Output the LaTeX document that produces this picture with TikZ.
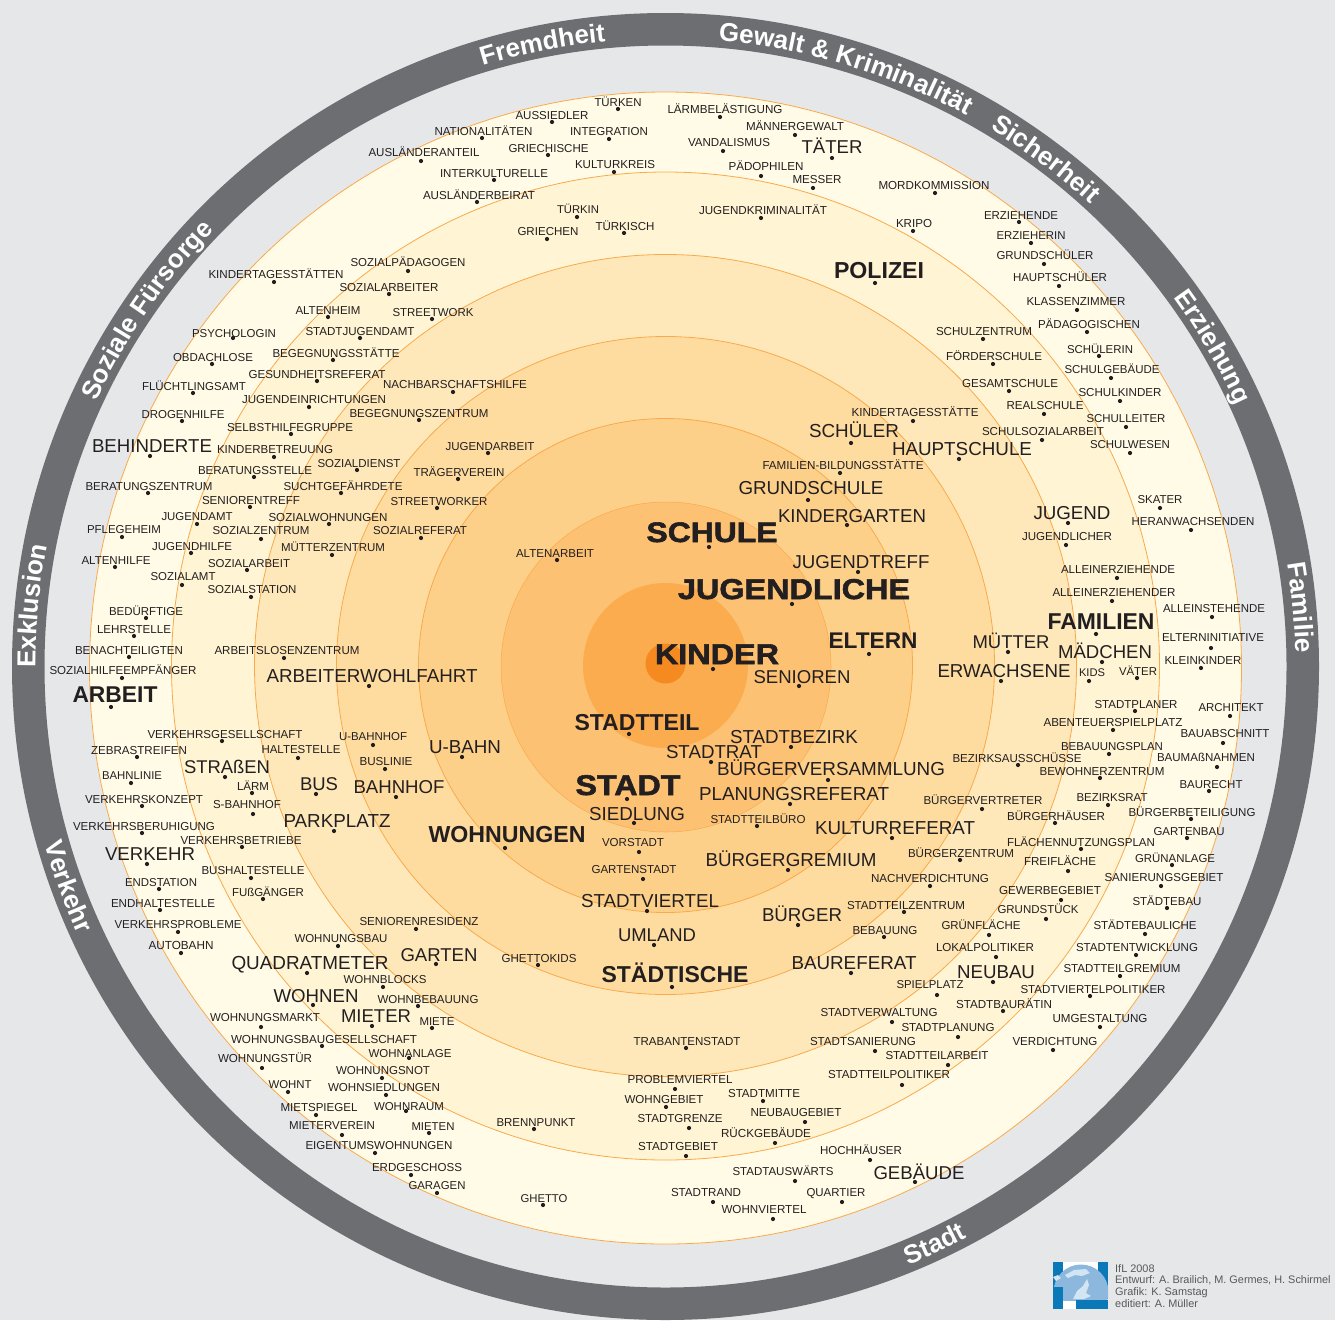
\documentclass[tikz,border=0pt]{standalone}
\usepackage{fontspec}
\usetikzlibrary{decorations.text}
\setmainfont{Liberation Sans}
\newfontfamily\heavy[FakeBold=2,FakeStretch=1.13]{Liberation Sans}
\definecolor{bgc}{HTML}{E6E7E9}
\definecolor{ringc}{HTML}{6D6E71}
\definecolor{c1}{HTML}{FFFBE7}
\definecolor{c2}{HTML}{FFF4D3}
\definecolor{c3}{HTML}{FEE8B9}
\definecolor{c4}{HTML}{FEDC9F}
\definecolor{c5}{HTML}{FDD08A}
\definecolor{c6}{HTML}{FDC173}
\definecolor{c7}{HTML}{FBAC4F}
\definecolor{c8}{HTML}{F58A20}
\definecolor{edge}{HTML}{F9A94B}
\definecolor{ink}{HTML}{231F20}
\definecolor{logob}{HTML}{0B78B7}
\definecolor{logol}{HTML}{8BB8DC}
\definecolor{logop}{HTML}{D3E5F2}
\definecolor{credit}{HTML}{58595B}
\newcounter{wc}
\newbox\wmeas
\newcommand{\wlab}[7]{%
  \stepcounter{wc}%
  \node[wtext] (t\thewc) at (#4,#5) {\setbox\wmeas=\hbox{#1\fontsize{10}{10}\selectfont #7}\pgfmathsetmacro\fsz{10*#6/\the\wd\wmeas}#1\fontsize{\fsz}{\fsz}\selectfont #7};%
  \node[wdot] (d\thewc) at (#2,#3) {};%
}
\newcommand{\wl}{\wlab{\normalfont}}
\newcommand{\wb}{\wlab{\bfseries}}
\newcommand{\wh}{\wlab{\heavy\bfseries}}
\newcommand{\ringfont}{\fontsize{26}{26}\selectfont\bfseries\color{white}}
\newcommand{\ringtext}[4]{%
  \path[decorate,decoration={text along path,text align=center,text={|\ringfont|#4}}]
    (C) ++(#1:#3pt) arc[start angle=#1,end angle=#2,radius=#3pt];%
}
\tikzset{
  wtext/.style={anchor=base,inner sep=0pt,outer sep=0pt,text=ink},
  wdot/.style={circle,fill=ink,inner sep=0pt,minimum size=4.2pt},
  band/.style={line width=0.8pt,draw=edge},
  creditline/.style={anchor=base west,inner sep=0pt,text=credit,font=\fontsize{10.9}{11}\selectfont}
}
\begin{document}
\begin{tikzpicture}[x=1pt,y=-1pt]
\useasboundingbox (0,0) rectangle (1335,1320);
\fill[bgc] (0,0) rectangle (1335,1320);
\coordinate (C) at (665.5,666.5);
\draw[ringc,line width=32.5pt] (C) circle[radius=637.25pt];
\filldraw[band,fill=c1] (665.5,668) circle[radius=576pt];
\filldraw[band,fill=c2] (665.5,666) circle[radius=494pt];
\filldraw[band,fill=c3] (665.5,665.5) circle[radius=411pt];
\filldraw[band,fill=c4] (665.5,665.5) circle[radius=329pt];
\filldraw[band,fill=c5] (665.5,665.5) circle[radius=247pt];
\filldraw[band,fill=c6,line width=0.5pt] (666,667) circle[radius=165pt];
\fill[c7] (665.5,665.5) circle[radius=82.5pt];
\fill[c8] (665.5,663.5) circle[radius=20pt];
% ring words
\ringtext{107}{95.4}{628}{Fremdheit}
\ringtext{85}{61.5}{628}{Gewalt {\&} Kriminalität}
\ringtext{59}{47.3}{628}{Sicherheit}
\ringtext{36}{24.6}{628}{Erziehung}
\ringtext{9.3}{1.3}{630}{Familie}
\ringtext{180}{169}{630}{Exklusion}
\ringtext{155.2}{135.8}{628}{Soziale Fürsorge}
\ringtext{195.7}{204.7}{646}{Verkehr}
\ringtext{292}{298}{646}{Stadt}
% top
\wl{618}{109}{618}{106}{47}{TÜRKEN}
\wl{552}{122}{552}{119}{73}{AUSSIEDLER}
\wl{482}{138}{483.5}{135}{98}{NATIONALITÄTEN}
\wl{421}{161}{424}{156}{111}{AUSLÄNDERANTEIL}
\wl{609}{139}{609}{135}{78}{INTEGRATION}
\wl{548}{155}{548.5}{152}{80}{GRIECHISCHE}
\wl{494}{180}{494}{177}{108}{INTERKULTURELLE}
\wl{614}{172}{615}{168}{80}{KULTURKREIS}
\wl{477}{202}{479}{199}{112}{AUSLÄNDERBEIRAT}
\wl{577}{217}{578}{213}{42}{TÜRKIN}
\wl{547}{239}{548}{235}{61}{GRIECHEN}
\wl{624}{233}{625}{230}{59}{TÜRKISCH}
\wl{408}{271}{408}{266}{115}{SOZIALPÄDAGOGEN}
\wl{389}{294}{389}{291}{99}{SOZIALARBEITER}
\wl{720}{117}{725}{113}{115}{LÄRMBELÄSTIGUNG}
\wl{795}{135}{795}{130}{98}{MÄNNERGEWALT}
\wl{723}{151}{729}{146}{82}{VANDALISMUS}
\wl{832}{158}{832}{153}{61}{TÄTER}
\wl{761}{176}{766}{170}{75}{PÄDOPHILEN}
\wl{813}{188}{817}{183}{49}{MESSER}
\wl{935}{193}{934}{189}{111}{MORDKOMMISSION}
\wl{761}{218}{763}{214}{128}{JUGENDKRIMINALITÄT}
\wl{913}{231}{914}{227}{36}{KRIPO}
\wb{875}{283}{879}{278}{90}{POLIZEI}
% upper right
\wl{1019}{222}{1021}{219}{74}{ERZIEHENDE}
\wl{1031}{243}{1031}{239}{69}{ERZIEHERIN}
\wl{1044}{264}{1045}{259}{97}{GRUNDSCHÜLER}
\wl{1059}{286}{1060}{281}{94}{HAUPTSCHÜLER}
\wl{1077}{310}{1076}{305}{99}{KLASSENZIMMER}
\wl{1087}{332}{1089}{328}{102}{PÄDAGOGISCHEN}
\wl{1099}{356}{1100}{353}{66}{SCHÜLERIN}
\wl{1111}{378}{1112}{373}{95}{SCHULGEBÄUDE}
\wl{1120}{401}{1120}{396}{83}{SCHULKINDER}
\wl{1126}{427}{1126}{422}{79}{SCHULLEITER}
\wl{1130}{453}{1130}{448}{80}{SCHULWESEN}
\wl{983}{339}{984}{335}{96}{SCHULZENTRUM}
\wl{993}{364}{994}{360}{96}{FÖRDERSCHULE}
\wl{1009}{391}{1010}{387}{96}{GESAMTSCHULE}
\wl{1044}{414}{1045}{409}{77}{REALSCHULE}
\wl{1042}{440}{1043}{435}{122}{SCHULSOZIALARBEIT}
\wl{959}{459}{962}{455}{140}{HAUPTSCHULE}
\wl{913}{421}{915}{416}{127}{KINDERTAGESSTÄTTE}
\wl{851}{443}{854}{437}{90}{SCHÜLER}
\wl{840}{473}{843}{469}{161}{FAMILIEN-BILDUNGSSTÄTTE}
\wl{808}{500}{811}{494}{145}{GRUNDSCHULE}
\wl{847}{525}{852}{522}{148}{KINDERGARTEN}
% centre
\wh{709}{547}{712}{542}{131}{SCHULE}
\wl{858}{572}{861}{568}{137}{JUGENDTREFF}
\wh{792}{604}{794}{599}{232}{JUGENDLICHE}
\wb{869}{654}{873}{648}{89}{ELTERN}
\wh{713}{669}{717}{664}{124}{KINDER}
\wl{799}{686}{802}{683}{97}{SENIOREN}
\wl{557}{560}{555}{557}{78}{ALTENARBEIT}
\wb{629}{734}{637}{730}{125}{STADTTEIL}
\wl{791}{747}{794}{743}{128}{STADTBEZIRK}
\wl{711}{762}{714}{758}{96}{STADTRAT}
\wh{627}{799}{628}{795}{105}{STADT}
\wl{828}{780}{831}{775}{228}{BÜRGERVERSAMMLUNG}
\wl{790}{804}{794}{800}{190}{PLANUNGSREFERAT}
\wl{634}{823}{637}{820}{96}{SIEDLUNG}
\wl{757}{826}{758}{823}{95}{STADTTEILBÜRO}
\wl{892}{838}{895}{834}{160}{KULTURREFERAT}
\wb{505}{848}{507}{842}{157}{WOHNUNGEN}
\wl{639}{852}{633}{846}{62}{VORSTADT}
\wl{788}{870}{791}{866}{171}{BÜRGERGREMIUM}
\wl{960}{860}{961}{857}{106}{BÜRGERZENTRUM}
\wl{643}{879}{634}{873}{85}{GARTENSTADT}
\wl{930}{886}{930}{882}{118}{NACHVERDICHTUNG}
\wl{647}{911}{650}{907}{138}{STADTVIERTEL}
\wl{904}{912}{906}{909}{118}{STADTTEILZENTRUM}
\wl{798}{925}{802}{921}{80}{BÜRGER}
\wl{884}{937}{885}{934}{65}{BEBAUUNG}
\wl{654}{945}{657}{941}{78}{UMLAND}
\wb{672}{987}{675}{982}{147}{STÄDTISCHE}
\wl{851}{973}{854}{969}{125}{BAUREFERAT}
\wl{937}{995}{930}{988}{67}{SPIELPLATZ}
\wl{892}{1022}{879}{1016}{117}{STADTVERWALTUNG}
\wl{958}{1037}{948}{1031}{93}{STADTPLANUNG}
\wl{875}{1051}{863}{1045}{106}{STADTSANIERUNG}
\wl{686}{1048}{687}{1045}{107}{TRABANTENSTADT}
\wl{948}{1065}{937}{1059}{103}{STADTTEILARBEIT}
% bottom right
\wl{902}{1085}{889}{1078}{122}{STADTTEILPOLITIKER}
\wl{675}{1089}{680}{1083}{105}{PROBLEMVIERTEL}
\wl{763}{1101}{764}{1097}{72}{STADTMITTE}
\wl{666}{1107}{664}{1103}{79}{WOHNGEBIET}
\wl{805}{1122}{796}{1116}{91}{NEUBAUGEBIET}
\wl{689}{1128}{680}{1122}{85}{STADTGRENZE}
\wl{775}{1143}{766}{1137}{90}{RÜCKGEBÄUDE}
\wl{686}{1156}{678}{1150}{80}{STADTGEBIET}
\wl{870}{1160}{861}{1154}{82}{HOCHHÄUSER}
\wl{795}{1181}{783}{1175}{101}{STADTAUSWÄRTS}
\wl{915}{1182}{919}{1179}{91}{GEBÄUDE}
\wl{713}{1202}{706}{1196}{70}{STADTRAND}
\wl{842}{1202}{836}{1196}{59}{QUARTIER}
\wl{773}{1219}{764}{1213}{85}{WOHNVIERTEL}
\wl{1053}{1050}{1055}{1045}{85}{VERDICHTUNG}
\wl{1100}{1027}{1100}{1022}{95}{UMGESTALTUNG}
% right lower
\wl{1135}{711}{1136}{708}{83}{STADTPLANER}
\wl{1230}{716}{1231}{711}{65}{ARCHITEKT}
\wl{1113}{730}{1113}{726}{139}{ABENTEUERSPIELPLATZ}
\wl{1223}{743}{1225}{737}{89}{BAUABSCHNITT}
\wl{1109}{754}{1112}{750}{102}{BEBAUUNGSPLAN}
\wl{1018}{765}{1017}{762}{129}{BEZIRKSAUSSCHÜSSE}
\wl{1217}{767}{1206}{761}{98}{BAUMAßNAHMEN}
\wl{1100}{778}{1102}{775}{125}{BEWOHNERZENTRUM}
\wl{1209}{791}{1211}{788}{63}{BAURECHT}
\wl{1108}{805}{1112}{801}{71}{BEZIRKSRAT}
\wl{982}{809}{983}{804}{119}{BÜRGERVERTRETER}
\wl{1191}{819}{1192}{816}{127}{BÜRGERBETEILIGUNG}
\wl{1055}{823}{1056}{820}{98}{BÜRGERHÄUSER}
\wl{1187}{838}{1189}{835}{71}{GARTENBAU}
\wl{1081}{849}{1081}{846}{148}{FLÄCHENNUTZUNGSPLAN}
\wl{1068}{871}{1060}{865}{72}{FREIFLÄCHE}
\wl{1172}{865}{1175}{862}{80}{GRÜNANLAGE}
\wl{1161}{886}{1164}{881}{119}{SANIERUNGSGEBIET}
\wl{1061}{900}{1050}{894}{102}{GEWERBEGEBIET}
\wl{1046}{919}{1038}{913}{81}{GRUNDSTÜCK}
\wl{1167}{908}{1167}{905}{69}{STÄDTEBAU}
\wl{989}{935}{981}{929}{79}{GRÜNFLÄCHE}
\wl{1145}{934}{1145}{929}{103}{STÄDTEBAULICHE}
\wl{996}{957}{985}{951}{98}{LOKALPOLITIKER}
\wl{1136}{955}{1137}{951}{122}{STADTENTWICKLUNG}
\wl{993}{982}{996}{978}{78}{NEUBAU}
\wl{1120}{976}{1122}{972}{117}{STADTTEILGREMIUM}
\wl{1090}{996}{1093}{993}{145}{STADTVIERTELPOLITIKER}
\wl{1003}{1011}{1004}{1008}{96}{STADTBAURÄTIN}
% right middle
\wl{1160}{508}{1160}{503}{45}{SKATER}
\wl{1068}{523}{1072}{519}{77}{JUGEND}
\wl{1191}{530}{1193}{525}{123}{HERANWACHSENDEN}
\wl{1066}{545}{1067}{540}{90}{JUGENDLICHER}
\wl{1117}{578}{1118}{573}{114}{ALLEINERZIEHENDE}
\wl{1112}{601}{1114}{596}{123}{ALLEINERZIEHENDER}
\wl{1212}{617}{1214}{612}{102}{ALLEINSTEHENDE}
\wb{1096}{634}{1101}{629}{107}{FAMILIEN}
\wl{1211}{648}{1213}{641}{102}{ELTERNINITIATIVE}
\wl{1008}{652}{1011}{648}{77}{MÜTTER}
\wl{1102}{662}{1105}{658}{94}{MÄDCHEN}
\wl{1201}{668}{1203}{664}{77}{KLEINKINDER}
\wl{1089}{681}{1092}{676}{26}{KIDS}
\wl{1137}{678}{1138}{675}{38}{VÄTER}
\wl{1001}{681}{1004}{677}{133}{ERWACHSENE}
% upper left
\wl{274}{282}{276}{278}{135}{KINDERTAGESSTÄTTEN}
\wl{328}{317}{328}{314}{65}{ALTENHEIM}
\wl{432}{319}{433}{316}{81}{STREETWORK}
\wl{233}{338}{234}{337}{84}{PSYCHOLOGIN}
\wl{360}{338}{360}{335}{109}{STADTJUGENDAMT}
\wl{212}{364}{213}{361}{80}{OBDACHLOSE}
\wl{333}{360}{336}{357}{127}{BEGEGNUNGSSTÄTTE}
\wl{317}{381}{317}{378}{137}{GESUNDHEITSREFERAT}
\wl{193}{393}{194}{390}{104}{FLÜCHTLINGSAMT}
\wl{453}{392}{455}{388}{144}{NACHBARSCHAFTSHILFE}
\wl{309}{407}{314}{403}{144}{JUGENDEINRICHTUNGEN}
\wl{419}{420}{419}{417}{139}{BEGEGNUNGSZENTRUM}
\wl{182}{421}{183}{418}{83}{DROGENHILFE}
\wl{291}{434}{290}{431}{126}{SELBSTHILFEGRUPPE}
\wl{150}{456}{152}{452}{120}{BEHINDERTE}
\wl{274}{457}{275}{453}{116}{KINDERBETREUUNG}
\wl{488}{453}{490}{450}{89}{JUGENDARBEIT}
\wl{357}{470}{359}{467}{83}{SOZIALDIENST}
\wl{458}{479}{459}{476}{91}{TRÄGERVEREIN}
\wl{254}{477}{255}{474}{114}{BERATUNGSSTELLE}
\wl{148}{493}{149}{490}{127}{BERATUNGSZENTRUM}
\wl{341}{493}{343}{490}{119}{SUCHTGEFÄHRDETE}
\wl{250}{507}{251}{504}{98}{SENIORENTREFF}
\wl{437}{508}{439}{505}{97}{STREETWORKER}
\wl{197}{524}{197}{520}{71}{JUGENDAMT}
\wl{329}{524}{328}{521}{119}{SOZIALWOHNUNGEN}
\wl{122}{537}{124}{533}{74}{PFLEGEHEIM}
\wl{261}{539}{261}{534}{97}{SOZIALZENTRUM}
\wl{421}{538}{420}{534}{94}{SOZIALREFERAT}
\wl{191}{553}{192}{550}{80}{JUGENDHILFE}
\wl{332}{555}{333}{551}{104}{MÜTTERZENTRUM}
\wl{115}{567}{116}{564}{69}{ALTENHILFE}
\wl{247}{570}{249}{567}{82}{SOZIALARBEIT}
\wl{182}{585}{183}{580}{65}{SOZIALAMT}
\wl{251}{597}{252}{593}{89}{SOZIALSTATION}
% left
\wl{146}{618}{146}{615}{74}{BEDÜRFTIGE}
\wl{134}{636}{134}{633}{74}{LEHRSTELLE}
\wl{129}{657}{129}{654}{108}{BENACHTEILIGTEN}
\wl{284}{658}{287}{654}{145}{ARBEITSLOSENZENTRUM}
\wl{122}{678}{123}{674}{147}{SOZIALHILFEEMPFÄNGER}
\wl{369}{686}{372}{682}{211}{ARBEITERWOHLFAHRT}
\wb{111}{707}{115}{702}{85}{ARBEIT}
\wl{222}{741}{225}{738}{155}{VERKEHRSGESELLSCHAFT}
\wl{373}{745}{373}{740}{68}{U-BAHNHOF}
\wl{298}{758}{301}{753}{79}{HALTESTELLE}
\wl{137}{757}{139}{754}{96}{ZEBRASTREIFEN}
\wl{462}{757}{465}{753}{72}{U-BAHN}
\wl{225}{777}{227}{773}{86}{STRAßEN}
\wl{385}{769}{386}{765}{53}{BUSLINIE}
\wl{131}{783}{132}{779}{60}{BAHNLINIE}
\wl{316}{794}{319}{790}{38}{BUS}
\wl{252}{793}{253}{790}{32}{LÄRM}
\wl{396}{797}{399}{793}{91}{BAHNHOF}
\wl{142}{806}{144}{803}{118}{VERKEHRSKONZEPT}
\wl{253}{814}{247}{808}{68}{S-BAHNHOF}
\wl{334}{831}{337}{827}{107}{PARKPLATZ}
\wl{142}{833}{144}{830}{142}{VERKEHRSBERUHIGUNG}
\wl{242}{847}{241}{844}{121}{VERKEHRSBETRIEBE}
\wl{147}{864}{150}{860}{90}{VERKEHR}
\wl{251}{878}{253}{874}{103}{BUSHALTESTELLE}
\wl{159}{889}{161}{886}{72}{ENDSTATION}
\wl{263}{899}{268}{896}{72}{FUßGÄNGER}
\wl{160}{910}{163}{907}{104}{ENDHALTESTELLE}
\wl{178}{932}{178}{928}{127}{VERKEHRSPROBLEME}
\wl{181}{953}{181}{949}{65}{AUTOBAHN}
% lower left
\wl{416}{929}{419}{925}{119}{SENIORENRESIDENZ}
\wl{338}{946}{341}{942}{93}{WOHNUNGSBAU}
\wl{307}{973}{310}{969}{157}{QUADRATMETER}
\wl{436}{964}{439}{961}{77}{GARTEN}
\wl{538}{965}{539}{962}{75}{GHETTOKIDS}
\wl{383}{987}{385}{983}{83}{WOHNBLOCKS}
\wl{313}{1005}{316}{1002}{85}{WOHNEN}
\wl{418}{1006}{428}{1003}{101}{WOHNBEBAUUNG}
\wl{372}{1026}{376}{1022}{70}{MIETER}
\wl{261}{1027}{265}{1021}{110}{WOHNUNGSMARKT}
\wl{432}{1028}{437}{1025}{35}{MIETE}
\wl{322}{1046}{324}{1043}{186}{WOHNUNGSBAUGESELLSCHAFT}
\wl{409}{1058}{410}{1057}{83}{WOHNANLAGE}
\wl{262}{1068}{265}{1062}{94}{WOHNUNGSTÜR}
\wl{382}{1078}{383}{1074}{94}{WOHNUNGSNOT}
\wl{386}{1095}{384}{1091}{112}{WOHNSIEDLUNGEN}
\wl{288}{1092}{290}{1088}{43}{WOHNT}
\wl{406}{1111}{409}{1110}{70}{WOHNRAUM}
\wl{316}{1115}{319}{1111}{77}{MIETSPIEGEL}
\wl{342}{1135}{332}{1129}{86}{MIETERVEREIN}
\wl{534}{1129}{536}{1126}{79}{BRENNPUNKT}
\wl{429}{1133}{433}{1130}{43}{MIETEN}
\wl{375}{1153}{379}{1149}{147}{EIGENTUMSWOHNUNGEN}
\wl{411}{1175}{417}{1171}{90}{ERDGESCHOSS}
\wl{437}{1193}{437}{1189}{57}{GARAGEN}
\wl{543}{1205}{544}{1202}{47}{GHETTO}
% logo
\fill[white] (1053,1262) rectangle (1108,1309);
\fill[logob] (1053,1262) rectangle (1063,1309);
\fill[logob] (1098,1262) rectangle (1108,1299);
\begin{scope}
\clip (1053,1262) rectangle (1108,1300);
\fill[logol] (1081,1292) circle[radius=27.5pt];
\fill[logop] (1065,1275) -- (1074,1270) -- (1086,1269) -- (1090,1273) -- (1082,1276) -- (1075,1275) -- (1068,1278) -- cycle;
\fill[logop] (1073,1299) -- (1077,1291) -- (1083,1286) -- (1087,1279) -- (1089,1285) -- (1086,1293) -- (1091,1296) -- (1084,1299) -- cycle;
\fill[logop] (1053,1277) -- (1058,1275) -- (1061,1278) -- (1056,1281) -- cycle;
\end{scope}
\fill[logob] (1053,1287) rectangle (1063,1309);
\fill[logob] (1076,1300) rectangle (1108,1309);
\node[creditline] (cr1) at (1115,1272) {IfL 2008};
\node[creditline] (cr2) at (1115,1283.5) {Entwurf: A. Brailich, M. Germes, H. Schirmel};
\node[creditline] (cr3) at (1115,1295) {Grafik: K. Samstag};
\node[creditline] (cr4) at (1115,1307) {editiert: A. Müller};
\end{tikzpicture}
\end{document}
